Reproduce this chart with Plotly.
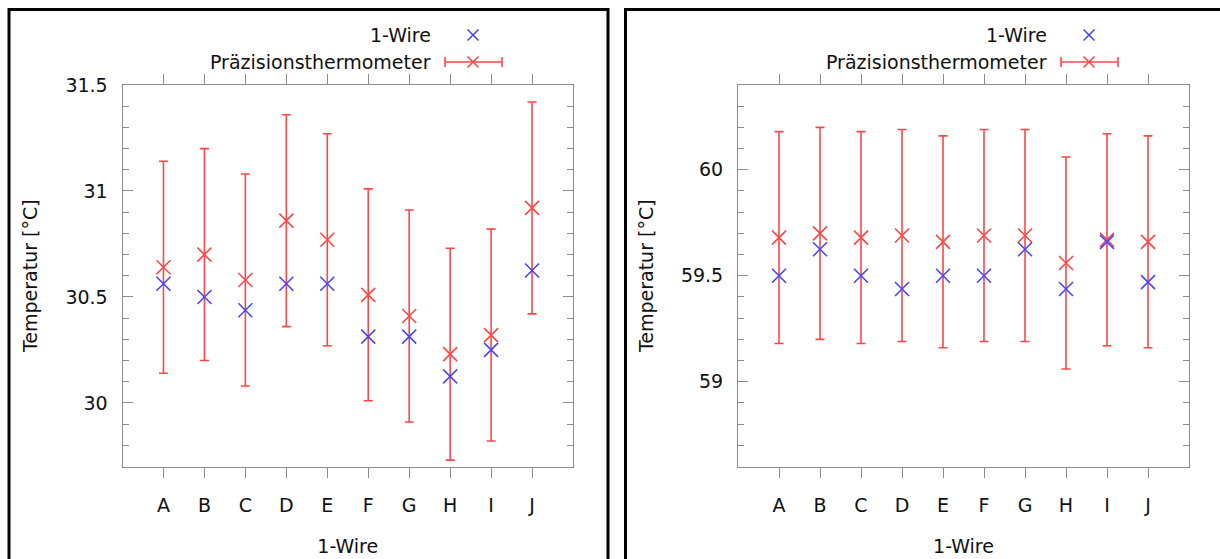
import plotly.graph_objects as go

# ---------------- data ----------------
categories = ["A", "B", "C", "D", "E", "F", "G", "H", "I", "J"]

onewire_30 = [30.5625, 30.5, 30.4375, 30.5625, 30.5625, 30.3125, 30.3125, 30.125, 30.25, 30.625]
precision_30 = [30.64, 30.70, 30.58, 30.86, 30.77, 30.51, 30.41, 30.23, 30.32, 30.92]

onewire_60 = [59.5, 59.625, 59.5, 59.4375, 59.5, 59.5, 59.625, 59.4375, 59.66, 59.47]
precision_60 = [59.68, 59.70, 59.68, 59.69, 59.66, 59.69, 59.69, 59.56, 59.67, 59.66]

precision_err = [0.5] * 10

y_range_30 = [29.7, 31.5001]
y_range_60 = [58.6, 60.4]
x_range = [-1, 10]

series_names = ["1-Wire", "Präzisionsthermometer"]
x_title = "1-Wire"
y_title = "Temperatur [°C]"

# ---------------- style ----------------
W, H = 1220, 559
BLUE = "#4646ff"
RED = "#ff4646"
AXC = "#8c8c8c"
FONT = "DejaVu Sans"
FS = 19

def px(x):
    return x / W

def py(y):
    return 1 - y / H

dom_x1 = [px(122.5), px(573)]
dom_x2 = [px(738), px(1189)]
dom_y = [py(466.5), py(85)]

fig = go.Figure()

panels = [
    ("x", "y", precision_30, onewire_30),
    ("x2", "y2", precision_60, onewire_60),
]
for xa, ya, prec, ow in panels:
    fig.add_trace(go.Scatter(
        x=categories, y=prec, xaxis=xa, yaxis=ya, mode="markers",
        name=series_names[1], showlegend=False,
        marker=dict(symbol="x-thin", size=14, color=RED, line=dict(width=1.6, color=RED)),
        error_y=dict(type="data", array=precision_err, visible=True,
                     color=RED, thickness=1.6, width=4.5),
    ))
    fig.add_trace(go.Scatter(
        x=categories, y=ow, xaxis=xa, yaxis=ya, mode="markers",
        name=series_names[0], showlegend=False,
        marker=dict(symbol="x-thin", size=14, color=BLUE, line=dict(width=1.6, color=BLUE)),
    ))

def xaxis_cfg(domain, anchor):
    return dict(
        domain=domain, anchor=anchor, type="category", range=x_range,
        showline=True, linecolor=AXC, linewidth=1, mirror="ticks",
        ticks="outside", ticklen=10, tickcolor=AXC, tickwidth=1,
        showgrid=False, zeroline=False,
        tickfont=dict(family=FONT, size=FS, color="#111"),
        ticklabelstandoff=12,
        title=dict(text=x_title, font=dict(family=FONT, size=FS, color="#111"), standoff=24),
        automargin=False,
    )

def yaxis_cfg(domain, anchor, rng, tick0):
    return dict(
        domain=domain, anchor=anchor, range=rng,
        dtick=0.5, tick0=tick0,
        showline=True, linecolor=AXC, linewidth=1, mirror="ticks",
        ticks="inside", ticklen=10, tickcolor=AXC, tickwidth=1,
        minor=dict(dtick=0.1, tick0=tick0, ticks="inside", ticklen=6, tickcolor=AXC, tickwidth=1, showgrid=False),
        showgrid=False, zeroline=False,
        tickfont=dict(family=FONT, size=FS, color="#111"),
        ticklabelstandoff=10,
        title=dict(text=y_title, font=dict(family=FONT, size=FS, color="#111"), standoff=22),
        automargin=False,
    )

fig.update_layout(
    width=W, height=H,
    margin=dict(l=0, r=0, t=0, b=0, autoexpand=False),
    paper_bgcolor="white", plot_bgcolor="white",
    showlegend=False,
    xaxis=xaxis_cfg(dom_x1, "y"),
    yaxis=yaxis_cfg(dom_y, "x", y_range_30, 30),
    xaxis2=xaxis_cfg(dom_x2, "y2"),
    yaxis2=yaxis_cfg(dom_y, "x2", y_range_60, 59),
)

shapes = []
annotations = []

# panel frames
shapes.append(dict(type="rect", xref="paper", yref="paper",
                   x0=px(9), x1=px(608), y0=-0.2, y1=py(9.5),
                   line=dict(color="black", width=3), fillcolor="rgba(0,0,0,0)"))
shapes.append(dict(type="rect", xref="paper", yref="paper",
                   x0=px(625.5), x1=1.2, y0=-0.2, y1=py(9.5),
                   line=dict(color="black", width=3), fillcolor="rgba(0,0,0,0)"))

# custom legends (text left of key, as in reference)
for right_edge in (573, 1189):
    mx = right_edge - 100
    tx = right_edge - 140
    y1, y2 = 35, 62
    annotations.append(dict(xref="paper", yref="paper", x=px(tx), y=py(y1),
                            xanchor="right", yanchor="middle", showarrow=False,
                            text=series_names[0], font=dict(family=FONT, size=FS, color="#111")))
    annotations.append(dict(xref="paper", yref="paper", x=px(tx), y=py(y2),
                            xanchor="right", yanchor="middle", showarrow=False,
                            text=series_names[1], font=dict(family=FONT, size=FS, color="#111")))
    s = 5.5
    for (cy, col) in ((y1, BLUE), (y2, RED)):
        shapes.append(dict(type="line", xref="paper", yref="paper",
                           x0=px(mx - s), x1=px(mx + s), y0=py(cy - s), y1=py(cy + s),
                           line=dict(color=col, width=1.6)))
        shapes.append(dict(type="line", xref="paper", yref="paper",
                           x0=px(mx - s), x1=px(mx + s), y0=py(cy + s), y1=py(cy - s),
                           line=dict(color=col, width=1.6)))
    # error-bar key
    shapes.append(dict(type="line", xref="paper", yref="paper",
                       x0=px(mx - 28), x1=px(mx + 29), y0=py(y2), y1=py(y2),
                       line=dict(color=RED, width=1.6)))
    for ex in (mx - 28, mx + 29):
        shapes.append(dict(type="line", xref="paper", yref="paper",
                           x0=px(ex), x1=px(ex), y0=py(y2 - 5), y1=py(y2 + 5),
                           line=dict(color=RED, width=1.6)))

fig.update_layout(shapes=shapes, annotations=annotations)

fig.write_html(
    "out.html",
    config={"displayModeBar": False},
    post_script="document.body.style.margin='0';document.body.style.padding='0';",
)
